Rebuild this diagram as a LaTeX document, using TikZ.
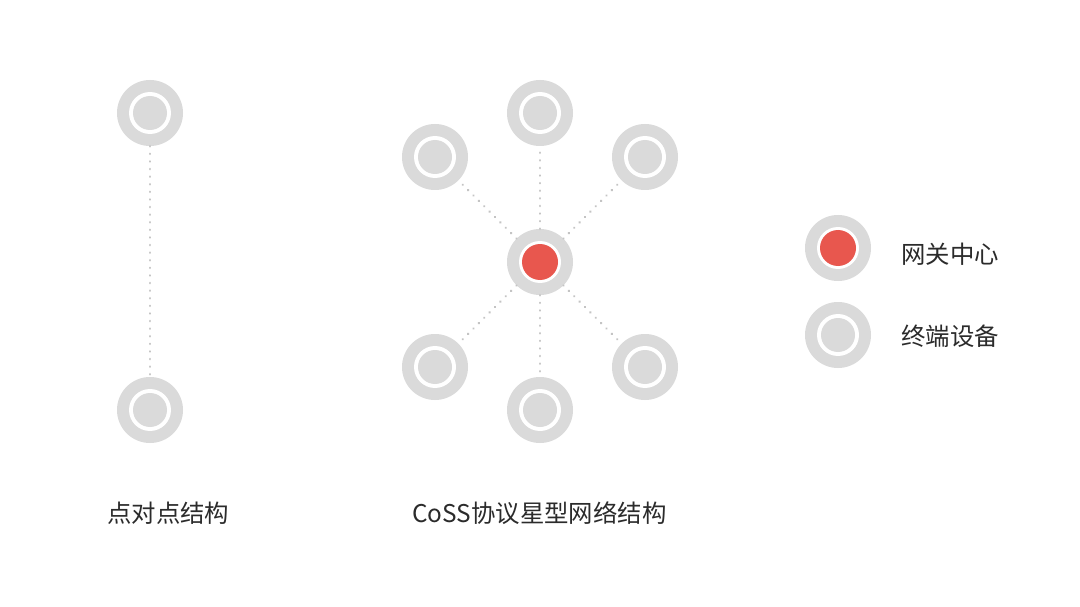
\documentclass[tikz,border=0pt]{standalone}
\usepackage{fontspec}
\setmainfont{Noto Sans CJK SC}
\definecolor{ringgray}{HTML}{DADADA}
\definecolor{hubred}{HTML}{E8574E}
\definecolor{linegray}{HTML}{C4C4C4}
\definecolor{txt}{HTML}{2B2B2B}
\begin{document}
\begin{tikzpicture}[x=1pt,y=-1pt,
  dev/.style={circle,fill=ringgray,minimum size=66pt,inner sep=0pt,
    path picture={\fill[white] (path picture bounding box.center) circle (21pt);
      \fill[ringgray] (path picture bounding box.center) circle (17pt);}},
  hub/.style={circle,fill=ringgray,minimum size=66pt,inner sep=0pt,
    path picture={\fill[white] (path picture bounding box.center) circle (21pt);
      \fill[hubred] (path picture bounding box.center) circle (18pt);}},
  link/.style={linegray,line width=2.6pt,line cap=round,dash pattern=on 0.1pt off 7.5pt},
  lbl/.style={text=txt,font=\fontsize{24.4}{29}\selectfont,inner sep=0pt}]
\useasboundingbox[fill=white] (0,0) rectangle (1080,607);
% point to point
\node[dev] (pa) at (150,113) {};
\node[dev] (pb) at (150,410) {};
\draw[link] (pa) -- (pb);
% star
\node[hub] (c) at (540,262) {};
\node[dev] (t) at (540,113) {};
\node[dev] (tl) at (435,157) {};
\node[dev] (tr) at (645,157) {};
\node[dev] (bl) at (435,367) {};
\node[dev] (br) at (645,367) {};
\node[dev] (b) at (540,410) {};
\foreach \n in {t,tl,tr,bl,br,b}{\draw[link] (c) -- (\n);}
% legend
\node[hub] (lh) at (838,248) {};
\node[dev] (ld) at (838,335) {};
\node[lbl,anchor=west] (lht) at (901,254) {网关中心};
\node[lbl,anchor=west] (ldt) at (901,336) {终端设备};
% captions
\node[lbl,anchor=west] (cap1) at (107,513) {点对点结构};
\node[lbl,anchor=west] (cap2) at (412,513) {CoSS协议星型网络结构};
\end{tikzpicture}
\end{document}
